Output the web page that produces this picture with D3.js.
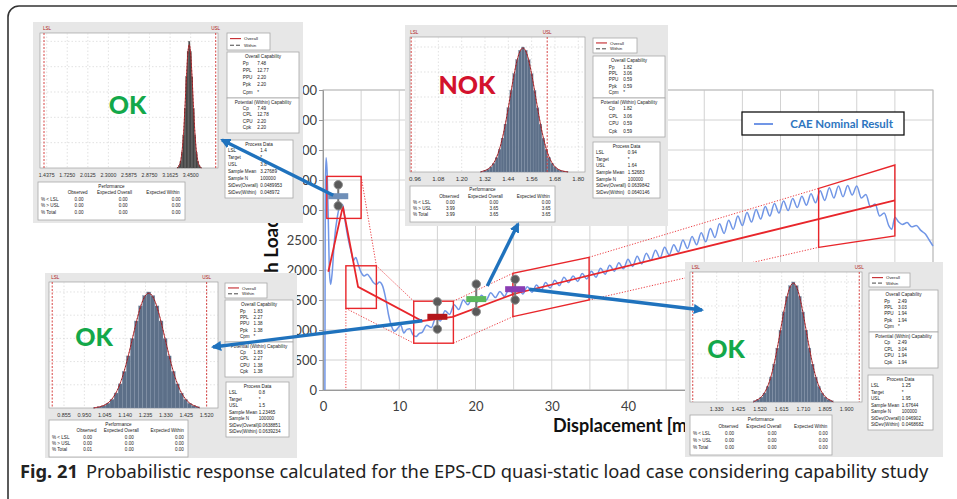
<!DOCTYPE html>
<html>
<head>
<meta charset="utf-8">
<script src="https://cdn.jsdelivr.net/npm/d3@7"></script>
<style>
  body { margin: 0; background: #fff; }
  svg { display: block; }
</style>
</head>
<body>
<svg width="957" height="499"></svg>
<script>
// ---------- main chart data ----------
// CAE nominal result: [displacement mm, load N]
var nominalCurve = [
  [0.25,0],[0.27,1500],[0.3,3300],[0.4,3870],[0.55,3600],[0.7,2800],[0.85,1950],[1.0,1760],
  [1.2,1950],[1.5,2500],[1.9,2900],[2.3,3100],[2.6,3080],[2.9,2820],[3.3,2520],[3.7,2300],
  [4.0,2160],[4.3,2210],[4.6,2100],[5.0,1960],[5.4,1900],[5.8,1930],[6.2,1870],[6.6,1790],
  [7.0,1760],[7.4,1800],[7.8,1740],[8.2,1540],[8.6,1250],[9.0,1060],[9.4,980],[9.8,1030],
  [10.2,1080],[10.6,950],[11.0,1010],[11.4,1020],[11.8,920],[12.2,890],[12.6,940],[13.0,960],
  [13.6,1080],[14.2,1040],[14.8,1210],[15.4,1150],[16.0,1320],[16.6,1260],[17.2,1420],[17.8,1340],
  [18.4,1500],[19.0,1420],[19.6,1540],[20.2,1460],[20.8,1580],[21.4,1500],[22.0,1620],[22.6,1540],
  [23.2,1640],[23.8,1560],[24.4,1680],[25.0,1590],[25.6,1710],[26.2,1600],[26.8,1720],[27.4,1630],
  [28.0,1750],[28.6,1660],[29.2,1790],[29.8,1700],[30.4,1830],[31.0,1740],[31.6,1880],[32.2,1790],
  [32.8,1900],[33.4,1810],[34.0,1940],[34.6,1850],[35.2,1980],[35.8,1880],[36.4,2030],[37.0,1930],
  [37.6,2080],[38.2,1980],[38.8,2120],[39.4,2020],[40.0,2180],[40.6,2060],[41.2,2230],[41.8,2100],
  [42.4,2280],[43.0,2160],[43.6,2330],[44.2,2200],[44.8,2380],[45.4,2250],[46.0,2420],[46.6,2300],
  [47.2,2500],[47.8,2360],[48.4,2560],[49.0,2420],[49.6,2620],[50.2,2470],[50.8,2690],[51.4,2540],
  [52.0,2770],[52.6,2610],[53.2,2830],[53.8,2680],[54.4,2900],[55.0,2740],[55.6,2960],[56.2,2800],
  [56.8,3010],[57.4,2850],[58.0,3060],[58.6,2900],[59.2,3110],[59.8,2950],[60.4,3150],[61.0,2990],
  [61.6,3190],[62.2,3040],[62.8,3230],[63.4,3080],[64.0,3270],[64.6,3120],[65.2,3320],[65.8,3160],
  [66.4,3370],[67.0,3200],[67.6,3400],[68.2,3220],[68.8,3410],[69.4,3250],[70.0,3400],[70.6,3200],
  [71.2,3260],[71.8,3050],[72.4,3100],[73.0,2900],[73.6,2950],[74.2,2740],[74.6,2680],[75.0,2880],
  [75.5,2800],[76.0,2760],[76.6,2790],[77.2,2720],[77.8,2740],[78.4,2660],[79.0,2600],[79.5,2500],
  [80.0,2400]
];

// red fitted trend line
var fitLine = [[0.7,1970],[2.6,3060],[4.6,1720],[13,1150],[17,1220],[25,1600],[75,3160]];
// red boxes [x0, x1, load0, load1]
var boxes = [[0.5,5.0,2860,3560],[3.0,7.0,1360,2070],[11.9,17.1,780,1480]];
// sloped red bands [xLeft, xRight, leftLow, leftHigh, rightLow, rightHigh]
var bands = [[24.9,34.9,1222,1945,1500,2212],[65,75,2378,3360,2567,3750]];
// dotted red envelope lines
var envelope = [
  [[5.0,3560],[7.0,2070]],
  [[7.0,2070],[11.9,1480]],
  [[3.0,1360],[11.9,780]],
  [[3.0,1360],[3.0,0]],
  [[17.1,1480],[24.9,1945]],
  [[17.1,780],[24.9,1222]],
  [[34.9,2212],[65,3360]],
  [[34.9,1500],[65,2378]]
];

// probabilistic evaluation points
var markerDisp = [2.0, 15.0, 20.1, 25.2];
var markerMean = [3230, 1220, 1515, 1680];
var markerLow  = [3070, 1015, 1305, 1500];
var markerHigh = [3420, 1470, 1765, 1845];

// tick labels left visible by the insets
var dispTicks = [0, 10, 20, 30, 40];
var loadTicks = [0, 500, 1000, 1500, 2000, 2500, 3000, 3500, 4000, 4500, 5000];

// ---------- capability study data ----------
var capLabelsOverall = ["Pp", "PPL", "PPU", "Ppk", "Cpm"];
var capLabelsWithin = ["Cp", "CPL", "CPU", "Cpk"];
var processLabels = ["LSL", "Target", "USL", "Sample Mean", "Sample N", "StDev(Overall)", "StDev(Within)"];
var perfRows = ["% < LSL", "% > USL", "% Total"];
var perfCols = ["Observed", "Expected Overall", "Expected Within"];

// top-left study (first peak)
var peakTicks = [1.4375, 1.7250, 2.0125, 2.3000, 2.5875, 2.8750, 3.1625, 3.4500];
var peakSpec = [1.4, 3.8];
var peakBins = [0.5, 1.7, 5, 12.5, 26, 47, 72, 92, 100, 92, 72, 47, 26, 12.5, 5, 1.7, 0.5];
var peakOverall = ["7.48", "12.77", "2.20", "2.20", "*"];
var peakWithin = ["7.49", "12.78", "2.20", "2.20"];
var peakProcess = ["1.4", "*", "3.8", "3.27689", "100000", "0.0489953", "0.048972"];
var peakPerf = [["0.00","0.00","0.00"],["0.00","0.00","0.00"],["0.00","0.00","0.00"]];

// top-middle study (NOK)
var nokTicks = [0.96, 1.08, 1.20, 1.32, 1.44, 1.56, 1.68, 1.80];
var nokSpec = [0.94, 1.64];
var nokBins = [0.5, 1.1, 2.2, 4, 7, 11.6, 18.2, 27.1, 38.3, 51.4, 65.3, 78.7, 89.9, 97.4, 100,
               97.4, 89.9, 78.7, 65.3, 51.4, 38.3, 27.1, 18.2, 11.6, 7, 4, 2.2, 1.1, 0.5, 0.3];
var nokOverall = ["1.82", "3.06", "0.59", "0.59", "*"];
var nokWithin = ["1.82", "3.06", "0.59", "0.59"];
var nokProcess = ["0.94", "*", "1.64", "1.52683", "100000", "0.0639842", "0.0640146"];
var nokPerf = [["0.00","0.00","0.00"],["3.99","3.65","3.65"],["3.99","3.65","3.65"]];

// bottom-left study (valley)
var valleyTicks = [0.855, 0.950, 1.045, 1.140, 1.235, 1.330, 1.425, 1.520];
var valleySpec = [0.8, 1.52];
var valleyBins = [0.4, 1, 2.1, 4.1, 7.5, 12.9, 20.8, 31.6, 44.9, 59.9, 75, 88, 96.9, 100,
                  96.9, 88, 75, 59.9, 44.9, 31.6, 20.8, 12.9, 7.5, 4.1, 2.1, 1];
var valleyOverall = ["1.83", "2.27", "1.38", "1.38", "*"];
var valleyWithin = ["1.83", "2.27", "1.38", "1.38"];
var valleyProcess = ["0.8", "*", "1.5", "1.23465", "100000", "0.0638851", "0.0639234"];
var valleyPerf = [["0.00","0.00","0.00"],["0.00","0.00","0.00"],["0.01","0.00","0.00"]];

// bottom-right study (rising branch)
var riseTicks = [1.330, 1.425, 1.520, 1.615, 1.710, 1.805, 1.900];
var riseSpec = [1.225, 1.955];
var riseBins = [1, 2.1, 4.1, 7.5, 12.9, 20.8, 31.6, 44.9, 59.9, 75, 88, 96.9, 100,
                96.9, 88, 75, 59.9, 44.9, 31.6, 20.8, 12.9, 7.5, 4.1, 2.1, 1];
var riseOverall = ["2.49", "3.03", "1.94", "1.94", "*"];
var riseWithin = ["2.49", "3.04", "1.94", "1.94"];
var riseProcess = ["1.25", "*", "1.95", "1.67644", "100000", "0.046902", "0.0468682"];
var risePerf = [["0.00","0.00","0.00"],["0.00","0.00","0.00"],["0.00","0.00","0.00"]];

// ---------- drawing ----------
var svg = d3.select("svg");
var red = "#e8262b", blueLine = "#7196e6", arrowBlue = "#1f72bd";
var okGreen = "#13a84a", nokRed = "#d3122d";
var markerColors = ["#6f8fb8", "#b3161b", "#5cb85c", "#8a3db3"];

var x = d3.scaleLinear().domain([0, 80]).range([323, 933]);
var y = d3.scaleLinear().domain([0, 5000]).range([390, 90]);

svg.append("rect").attr("width", 957).attr("height", 499).attr("fill", "#fff");

// figure frame (only top and left visible)
svg.append("rect")
    .attr("x", 8).attr("y", 6).attr("width", 1000).attr("height", 600).attr("rx", 11)
    .attr("fill", "none").attr("stroke", "#333").attr("stroke-width", 1.6);

var main = svg.append("g");

// grid
main.append("g").selectAll("line").data(x.ticks(16)).enter().append("line")
    .attr("x1", function(d) { return x(d); }).attr("x2", function(d) { return x(d); })
    .attr("y1", y(0)).attr("y2", y(5000))
    .attr("stroke", "#d2d2d2").attr("stroke-width", 1);
main.append("g").selectAll("line").data(loadTicks).enter().append("line")
    .attr("x1", x(0)).attr("x2", x(80))
    .attr("y1", function(d) { return y(d); }).attr("y2", function(d) { return y(d); })
    .attr("stroke", "#d2d2d2").attr("stroke-width", 1);
main.append("rect")
    .attr("x", x(0)).attr("y", y(5000)).attr("width", x(80) - x(0)).attr("height", y(0) - y(5000))
    .attr("fill", "none").attr("stroke", "#bdbdbd");

// axes
var xAxis = main.append("g").attr("transform", "translate(0," + y(0) + ")")
    .call(d3.axisBottom(x).tickValues(dispTicks).tickSize(0).tickPadding(12).tickFormat(d3.format("d")));
var yAxis = main.append("g").attr("transform", "translate(" + x(0) + ",0)")
    .call(d3.axisLeft(y).tickValues(loadTicks).tickSize(4).tickPadding(2).tickFormat(d3.format("d")));
[xAxis, yAxis].forEach(function(a) {
  a.select(".domain").attr("stroke", "#9a9a9a");
  a.selectAll(".tick line").attr("stroke", "#9a9a9a");
  a.selectAll("text").attr("font-family", "Lato, 'Open Sans', sans-serif")
      .attr("font-size", 13).attr("fill", "#404040");
});

// axis titles
main.append("text")
    .attr("x", 553).attr("y", 432)
    .attr("font-family", "Lato, 'Open Sans', sans-serif").attr("font-weight", 700)
    .attr("font-size", 18).attr("fill", "#111")
    .text("Displacement [mm]");
var yTitle = main.append("text")
    .attr("font-family", "Lato, 'Open Sans', sans-serif").attr("font-weight", 700)
    .attr("font-size", 19).attr("fill", "#111")
    .text("Punch Load [N]");
var probe = main.append("text").attr("font-family", "Lato, 'Open Sans', sans-serif")
    .attr("font-weight", 700).attr("font-size", 19).text("Punc ");
var pw = probe.node().getComputedTextLength();
probe.remove();
yTitle.attr("transform", "translate(278," + (273 + pw) + ") rotate(-90)");

// nominal curve
main.append("path")
    .datum(nominalCurve)
    .attr("fill", "none").attr("stroke", blueLine).attr("stroke-width", 1.5)
    .attr("d", d3.line().x(function(d) { return x(d[0]); }).y(function(d) { return y(d[1]); })
      .curve(d3.curveMonotoneX));

// legend
main.append("rect").attr("x", 742).attr("y", 112).attr("width", 162).attr("height", 23)
    .attr("fill", "#fff").attr("stroke", "#111").attr("stroke-width", 1.3);
main.append("line").attr("x1", 754).attr("x2", 773).attr("y1", 124).attr("y2", 124)
    .attr("stroke", blueLine).attr("stroke-width", 2);
main.append("text").attr("x", 893).attr("y", 128).attr("text-anchor", "end")
    .attr("font-family", "Lato, 'Open Sans', sans-serif").attr("font-weight", 700)
    .attr("font-size", 11.5).attr("fill", "#2e75c0")
    .text("CAE Nominal Result");

// red annotations
var ann = svg.append("g").attr("fill", "none").attr("stroke", red);
ann.selectAll("line.env").data(envelope).enter().append("line")
    .attr("x1", function(d) { return x(d[0][0]); }).attr("y1", function(d) { return y(d[0][1]); })
    .attr("x2", function(d) { return x(d[1][0]); }).attr("y2", function(d) { return y(d[1][1]); })
    .attr("stroke-width", 0.9).attr("stroke-dasharray", "1.2,1.6");
ann.selectAll("rect").data(boxes).enter().append("rect")
    .attr("x", function(d) { return x(d[0]); }).attr("y", function(d) { return y(d[3]); })
    .attr("width", function(d) { return x(d[1]) - x(d[0]); })
    .attr("height", function(d) { return y(d[2]) - y(d[3]); })
    .attr("stroke-width", 1.4);
ann.selectAll("path.band").data(bands).enter().append("path")
    .attr("stroke-width", 1.4)
    .attr("d", function(d) {
      return "M" + x(d[0]) + "," + y(d[2]) + "L" + x(d[1]) + "," + y(d[4]) +
             "L" + x(d[1]) + "," + y(d[5]) + "L" + x(d[0]) + "," + y(d[3]) + "Z";
    });
ann.append("path").datum(fitLine)
    .attr("stroke-width", 1.8)
    .attr("d", d3.line().x(function(d) { return x(d[0]); }).y(function(d) { return y(d[1]); }));

// markers
var mk = svg.append("g");
markerDisp.forEach(function(d, i) {
  var cx = x(d);
  mk.append("line").attr("x1", cx).attr("x2", cx)
      .attr("y1", y(markerHigh[i])).attr("y2", y(markerLow[i]))
      .attr("stroke", "#777").attr("stroke-width", 2);
  [markerHigh[i], markerLow[i]].forEach(function(v) {
    mk.append("circle").attr("cx", cx).attr("cy", y(v)).attr("r", 4.2)
        .attr("fill", "#5a5a5a").attr("stroke", "#8a8a8a").attr("stroke-width", 1);
  });
  mk.append("rect").attr("x", cx - 10).attr("y", y(markerMean[i]) - 3)
      .attr("width", 20).attr("height", 6).attr("fill", markerColors[i]);
});

// ---------- capability insets ----------
var tiny = "'Liberation Sans', Arial, sans-serif";

function box(g, r) {
  g.append("rect").attr("x", r[0]).attr("y", r[1]).attr("width", r[2] - r[0]).attr("height", r[3] - r[1])
      .attr("fill", "#fff").attr("stroke", "#a8a8a8").attr("stroke-width", 0.8);
}
function txt(g, tx, ty, s, anchor, size, color) {
  g.append("text").attr("x", tx).attr("y", ty).attr("text-anchor", anchor || "start")
      .attr("font-family", tiny).attr("font-size", size || 4.6).attr("fill", color || "#222")
      .text(s);
}

function drawInset(c) {
  var g = svg.append("g");
  var P = c.panel, R = c.plot;
  g.append("rect").attr("x", P[0]).attr("y", P[1]).attr("width", P[2] - P[0]).attr("height", P[3] - P[1])
      .attr("fill", "#e7e7e7");
  g.append("rect").attr("x", R[0]).attr("y", R[1]).attr("width", R[2] - R[0]).attr("height", R[3] - R[1])
      .attr("fill", "#fff").attr("stroke", "#a0a0a0").attr("stroke-width", 0.7);

  var px = d3.scaleLinear().domain(c.domain).range([R[0], R[2]]);
  var py = d3.scaleLinear().domain([0, c.yMax]).range([R[3], R[1]]);

  // grid
  g.selectAll(null).data(c.ticks).enter().append("line")
      .attr("x1", function(d) { return px(d); }).attr("x2", function(d) { return px(d); })
      .attr("y1", R[1]).attr("y2", R[3])
      .attr("stroke", "#cfcfcf").attr("stroke-width", 0.6).attr("stroke-dasharray", "1.5,2");
  g.selectAll(null).data(py.ticks(4).filter(function(d) { return d > 0; })).enter().append("line")
      .attr("x1", R[0]).attr("x2", R[2])
      .attr("y1", function(d) { return py(d); }).attr("y2", function(d) { return py(d); })
      .attr("stroke", "#cfcfcf").attr("stroke-width", 0.6).attr("stroke-dasharray", "1.5,2");

  // histogram
  g.selectAll(null).data(c.bins).enter().append("rect")
      .attr("x", function(d, i) { return px(c.binStart + i * c.binWidth); })
      .attr("width", function(d, i) { return px(c.binStart + (i + 1) * c.binWidth) - px(c.binStart + i * c.binWidth); })
      .attr("y", function(d) { return py(d); })
      .attr("height", function(d) { return R[3] - py(d); })
      .attr("fill", c.fill).attr("stroke", c.edge).attr("stroke-width", 0.3);

  // fitted distribution outline
  var fitPts = [[c.binStart, 0]].concat(c.bins.map(function(d, i) {
    return [c.binStart + (i + 0.5) * c.binWidth, d];
  })).concat([[c.binStart + c.bins.length * c.binWidth, 0]]);
  var fl = d3.line().x(function(d) { return px(d[0]); }).y(function(d) { return py(d[1]); }).curve(d3.curveBasis);
  g.append("path").datum(fitPts).attr("d", fl).attr("fill", "none")
      .attr("stroke", "#c3262b").attr("stroke-width", 0.9);
  g.append("path").datum(fitPts).attr("d", fl).attr("fill", "none")
      .attr("stroke", "#5a2222").attr("stroke-width", 0.6).attr("stroke-dasharray", "1.5,2");

  // spec limits
  c.spec.forEach(function(s, i) {
    g.append("line").attr("x1", px(s)).attr("x2", px(s)).attr("y1", R[1]).attr("y2", R[3])
        .attr("stroke", "#d2302f").attr("stroke-width", 0.9).attr("stroke-dasharray", "2,1.5");
    txt(g, px(s) + (i === 0 ? -1 : 0), R[1] - 3, i === 0 ? "LSL" : "USL", i === 0 ? "start" : "middle", 4.6, "#b02020");
  });

  // tick labels
  var f = d3.format(c.fmt);
  c.ticks.forEach(function(t) { txt(g, px(t), R[3] + 9, f(t), "middle", c.tickSize, "#333"); });

  // verdict
  g.append("text").attr("x", c.labelPos[0]).attr("y", c.labelPos[1])
      .attr("text-anchor", "middle").attr("dominant-baseline", "central")
      .attr("font-family", "Lato, 'Open Sans', sans-serif").attr("font-weight", 900)
      .attr("font-size", 25).attr("fill", c.labelColor).text(c.label);

  // legend
  var L = c.legend;
  box(g, L);
  var lh = L[3] - L[1];
  g.append("line").attr("x1", L[0] + 3).attr("x2", L[0] + 14).attr("y1", L[1] + lh * 0.33).attr("y2", L[1] + lh * 0.33)
      .attr("stroke", "#c3262b").attr("stroke-width", 1.1);
  g.append("line").attr("x1", L[0] + 3).attr("x2", L[0] + 14).attr("y1", L[1] + lh * 0.72).attr("y2", L[1] + lh * 0.72)
      .attr("stroke", "#333").attr("stroke-width", 0.9).attr("stroke-dasharray", "4,2");
  txt(g, L[0] + 17, L[1] + lh * 0.33 + 1.6, "Overall", "start", 4.4);
  txt(g, L[0] + 17, L[1] + lh * 0.72 + 1.6, "Within", "start", 4.4);

  // overall capability
  var O = c.overall, ow = O[2] - O[0], oh = O[3] - O[1];
  box(g, O);
  txt(g, O[0] + ow / 2, O[1] + 6, "Overall Capability", "middle");
  capLabelsOverall.forEach(function(l, i) {
    var ty = O[1] + 12.5 + i * (oh - 14) / 4.4;
    txt(g, O[0] + ow * 0.22, ty, l);
    txt(g, O[0] + ow * 0.42, ty, c.overallVals[i]);
  });

  // potential (within) capability
  var W = c.within, ww = W[2] - W[0], wh = W[3] - W[1];
  box(g, W);
  txt(g, W[0] + ww / 2, W[1] + 5.5, "Potential (Within) Capability", "middle");
  capLabelsWithin.forEach(function(l, i) {
    var ty = W[1] + 12 + i * (wh - 14) / 3.3;
    txt(g, W[0] + ww * 0.22, ty, l);
    txt(g, W[0] + ww * 0.42, ty, c.withinVals[i]);
  });

  // process data
  var D = c.process, dw = D[2] - D[0], dh = D[3] - D[1];
  box(g, D);
  txt(g, D[0] + dw / 2, D[1] + 6, "Process Data", "middle");
  processLabels.forEach(function(l, i) {
    var ty = D[1] + 12 + i * (dh - 14) / 6.3;
    txt(g, D[0] + 3, ty, l);
    txt(g, D[0] + dw * 0.52, ty, c.processVals[i]);
  });

  // performance
  var F = c.perf, fw = F[2] - F[0], fh = F[3] - F[1];
  box(g, F);
  txt(g, F[0] + fw * 0.5, F[1] + fh * 0.15, "Performance", "middle");
  var colC = [0.27, 0.52, 0.85], colR = [0.31, 0.61, 0.97];
  perfCols.forEach(function(h, j) { txt(g, F[0] + fw * colC[j], F[1] + fh * 0.32, h, "middle"); });
  perfRows.forEach(function(r, i) {
    var ty = F[1] + fh * (0.5 + i * 0.17);
    txt(g, F[0] + 3, ty, r);
    c.perfVals[i].forEach(function(v, j) { txt(g, F[0] + fw * colR[j], ty, v, "end"); });
  });
  return g;
}

var insets = [
  { panel: [33, 22, 303, 223], plot: [40, 33, 218, 168], domain: [1.344, 3.832], yMax: 106.6,
    ticks: peakTicks, fmt: ".4f", tickSize: 5.2, bins: peakBins, binStart: 3.26, binWidth: 0.02, spec: peakSpec,
    fill: "#444", edge: "#555",
    legend: [227, 33, 270, 50], overall: [227, 52, 299, 98], within: [227, 98, 299, 133],
    process: [225, 140, 293, 198], perf: [38, 182, 185, 220],
    label: "OK", labelPos: [127.5, 104], labelColor: okGreen,
    overallVals: peakOverall, withinVals: peakWithin, processVals: peakProcess, perfVals: peakPerf },
  { panel: [405, 25, 668, 226], plot: [410, 37, 585, 172], domain: [0.934, 1.8345], yMax: 108,
    ticks: nokTicks, fmt: ".2f", tickSize: 6.2, bins: nokBins, binStart: 1.2975, binWidth: 0.015, spec: nokSpec,
    fill: "#5c6f88", edge: "#8696ab",
    legend: [593, 38, 637, 53], overall: [593, 56, 665, 98], within: [593, 98, 665, 137],
    process: [593, 142, 660, 198], perf: [410, 186, 555, 222],
    label: "NOK", labelPos: [467, 84], labelColor: nokRed,
    overallVals: nokOverall, withinVals: nokWithin, processVals: nokProcess, perfVals: nokPerf },
  { panel: [45, 273, 297, 458], plot: [49, 282, 218, 408], domain: [0.785, 1.573], yMax: 108.6,
    ticks: valleyTicks, fmt: ".3f", tickSize: 5.5, bins: valleyBins, binStart: 0.9935, binWidth: 0.019, spec: valleySpec,
    fill: "#5c6f88", edge: "#8696ab",
    legend: [225, 283, 267, 298], overall: [225, 300, 293, 342], within: [225, 342, 293, 377],
    process: [226, 382, 289, 437], perf: [49, 420, 188, 457],
    label: "OK", labelPos: [94, 336], labelColor: okGreen,
    overallVals: valleyOverall, withinVals: valleyWithin, processVals: valleyProcess, perfVals: valleyPerf },
  { panel: [685, 262, 943, 457], plot: [690, 272, 862, 402], domain: [1.213, 1.967], yMax: 108.3,
    ticks: riseTicks, fmt: ".3f", tickSize: 5.5, bins: riseBins, binStart: 1.491, binWidth: 0.014, spec: riseSpec,
    fill: "#5c6f88", edge: "#8696ab",
    legend: [869, 273, 910, 287], overall: [869, 290, 938, 332], within: [869, 332, 938, 368],
    process: [868, 375, 933, 430], perf: [690, 415, 832, 455],
    label: "OK", labelPos: [726, 348], labelColor: okGreen,
    overallVals: riseOverall, withinVals: riseWithin, processVals: riseProcess, perfVals: risePerf }
];
insets.forEach(drawInset);

// ---------- arrows from evaluation points to their studies ----------
svg.append("defs").append("marker")
    .attr("id", "head").attr("viewBox", "0 0 10 10").attr("refX", 8).attr("refY", 5)
    .attr("markerWidth", 3).attr("markerHeight", 3).attr("orient", "auto")
  .append("path").attr("d", "M0,0L10,5L0,10Z").attr("fill", arrowBlue);

var arrowStartOffset = [[-5, -1], [-15, 4], [11, -13], [14, 0]];
var arrowEnd = [[222, 140], [213, 347], [518, 224], [702, 310]];
svg.append("g").selectAll("line").data(markerDisp).enter().append("line")
    .attr("x1", function(d, i) { return x(d) + arrowStartOffset[i][0]; })
    .attr("y1", function(d, i) { return y(markerMean[i]) + arrowStartOffset[i][1]; })
    .attr("x2", function(d, i) { return arrowEnd[i][0]; })
    .attr("y2", function(d, i) { return arrowEnd[i][1]; })
    .attr("stroke", arrowBlue).attr("stroke-width", 3.4)
    .attr("marker-end", "url(#head)");

// ---------- caption ----------
var cap = svg.append("text").attr("x", 20).attr("y", 478)
    .attr("font-family", "'Noto Sans', 'Open Sans', sans-serif").attr("font-size", 17).attr("fill", "#222");
cap.append("tspan").attr("font-weight", 700).text("Fig. 21");
cap.append("tspan").attr("dx", 8).text("Probabilistic response calculated for the EPS-CD quasi-static load case considering capability study");
var cw = cap.node().getComputedTextLength() + 8;
cap.attr("font-size", 17 * 910 / cw);
</script>
</body>
</html>
